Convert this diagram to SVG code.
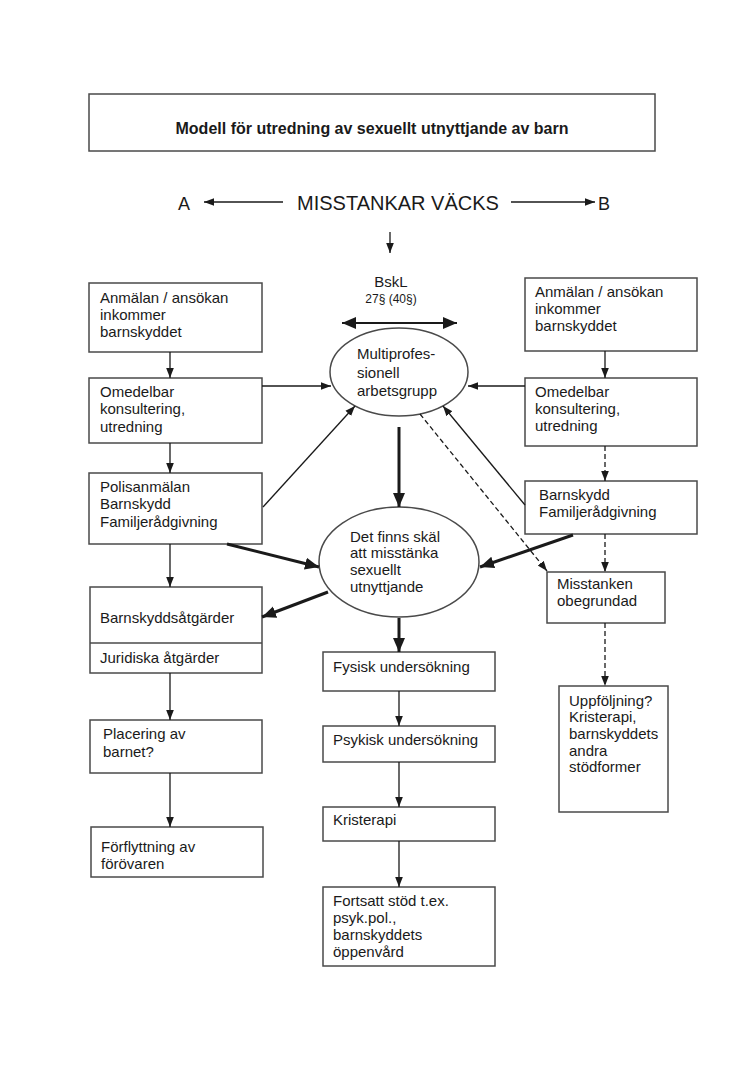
<svg xmlns="http://www.w3.org/2000/svg" width="749" height="1072" viewBox="0 0 749 1072">
<style>
text{font-family:"Liberation Sans",Arial,sans-serif;fill:#1a1a1a;font-size:15px}
.box{fill:#fff;stroke:#4a4a4a;stroke-width:1.5}
.ln{fill:none;stroke:#1a1a1a;stroke-width:1.3}
.th{fill:none;stroke:#1a1a1a;stroke-width:3}
.ds{fill:none;stroke:#1a1a1a;stroke-width:1.3;stroke-dasharray:5 3}
</style>
<defs>
<marker id="a" markerUnits="userSpaceOnUse" markerWidth="10" markerHeight="10" viewBox="0 0 10 10" refX="10" refY="5" orient="auto-start-reverse"><path d="M0,1.2 L10,5 L0,8.8 Z" fill="#1a1a1a"/></marker>
<marker id="b" markerUnits="userSpaceOnUse" markerWidth="14" markerHeight="14" viewBox="0 0 14 14" refX="14" refY="7" orient="auto-start-reverse"><path d="M0,1 L14,7 L0,13 Z" fill="#1a1a1a"/></marker>
</defs>
<rect width="749" height="1072" fill="#fff"/>

<g id="title"><rect class="box" x="89" y="94" width="566" height="57"/><text x="372" y="134" text-anchor="middle" style="font-weight:bold;font-size:16px">Modell för utredning av sexuellt utnyttjande av barn</text></g>
<g id="misstankar"><text x="297" y="210" style="font-size:20px">MISSTANKAR VÄCKS</text></g>
<g id="A"><text x="178" y="210" style="font-size:18px">A</text></g>
<g id="B"><text x="598" y="210" style="font-size:18px">B</text></g>
<g id="bskl"><text x="391" y="287" text-anchor="middle">BskL</text><text x="391" y="303" text-anchor="middle" style="font-size:12px">27§ (40§)</text></g>

<g id="L1"><rect class="box" x="89" y="283" width="173" height="69"/><text x="100" y="303">Anmälan / ansökan</text><text x="100" y="320">inkommer</text><text x="100" y="337">barnskyddet</text></g>
<g id="L2"><rect class="box" x="89" y="378" width="173" height="65"/><text x="100" y="397">Omedelbar</text><text x="100" y="414">konsultering,</text><text x="100" y="432">utredning</text></g>
<g id="L3"><rect class="box" x="89" y="473" width="173" height="71"/><text x="100" y="492">Polisanmälan</text><text x="100" y="509">Barnskydd</text><text x="100" y="527">Familjerådgivning</text></g>
<g id="L4"><rect class="box" x="90" y="587" width="172" height="86"/><line class="box" x1="90" y1="643" x2="262" y2="643"/><text x="100" y="623">Barnskyddsåtgärder</text><text x="100" y="663">Juridiska åtgärder</text></g>
<g id="L5"><rect class="box" x="90" y="720" width="172" height="53"/><text x="103" y="739">Placering av</text><text x="103" y="757">barnet?</text></g>
<g id="L6"><rect class="box" x="91" y="827" width="172" height="50"/><text x="101" y="852">Förflyttning av</text><text x="101" y="869">förövaren</text></g>

<g id="E1"><ellipse cx="399" cy="372" rx="69" ry="44" fill="#fff" stroke="#4a4a4a" stroke-width="1.5"/><text x="357" y="359">Multiprofes-</text><text x="357" y="378">sionell</text><text x="357" y="396">arbetsgrupp</text></g>
<g id="E2"><ellipse cx="399" cy="562" rx="80" ry="55" fill="#fff" stroke="#4a4a4a" stroke-width="1.5"/><text x="350" y="542">Det finns skäl</text><text x="350" y="558">att misstänka</text><text x="350" y="575">sexuellt</text><text x="350" y="592">utnyttjande</text></g>

<g id="C1"><rect class="box" x="323" y="652" width="172" height="39"/><text x="333" y="672">Fysisk undersökning</text></g>
<g id="C2"><rect class="box" x="323" y="726" width="172" height="36"/><text x="333" y="745">Psykisk undersökning</text></g>
<g id="C3"><rect class="box" x="323" y="807" width="172" height="34"/><text x="333" y="825">Kristerapi</text></g>
<g id="C4"><rect class="box" x="323" y="887" width="172" height="79"/><text x="333" y="906">Fortsatt stöd t.ex.</text><text x="333" y="923">psyk.pol.,</text><text x="333" y="940">barnskyddets</text><text x="333" y="957">öppenvård</text></g>

<g id="R1"><rect class="box" x="525" y="278" width="172" height="73"/><text x="535" y="297">Anmälan / ansökan</text><text x="535" y="314">inkommer</text><text x="535" y="331">barnskyddet</text></g>
<g id="R2"><rect class="box" x="525" y="378" width="172" height="68"/><text x="535" y="397">Omedelbar</text><text x="535" y="414">konsultering,</text><text x="535" y="431">utredning</text></g>
<g id="R3"><rect class="box" x="525" y="481" width="172" height="53"/><text x="539" y="500">Barnskydd</text><text x="539" y="517">Familjerådgivning</text></g>
<g id="R4"><rect class="box" x="547" y="572" width="118" height="51"/><text x="557" y="589">Misstanken</text><text x="557" y="606">obegrundad</text></g>
<g id="R5"><rect class="box" x="559" y="686" width="109" height="126"/><text x="569" y="706">Uppföljning?</text><text x="569" y="722">Kristerapi,</text><text x="569" y="739">barnskyddets</text><text x="569" y="756">andra</text><text x="569" y="772">stödformer</text></g>

<g id="connectors">
<line class="ln" x1="283" y1="202" x2="204" y2="202" marker-end="url(#a)"/>
<line class="ln" x1="511" y1="202" x2="595" y2="202" marker-end="url(#a)"/>
<line class="ln" x1="390" y1="232" x2="390" y2="253" marker-end="url(#a)"/>
<line class="th" style="stroke-width:2" x1="342" y1="323" x2="457" y2="323" marker-start="url(#b)" marker-end="url(#b)"/>

<line class="ln" x1="170" y1="352" x2="170" y2="378" marker-end="url(#a)"/>
<line class="ln" x1="170" y1="443" x2="170" y2="473" marker-end="url(#a)"/>
<line class="ln" x1="170" y1="544" x2="170" y2="587" marker-end="url(#a)"/>
<line class="ln" x1="170" y1="673" x2="170" y2="720" marker-end="url(#a)"/>
<line class="ln" x1="170" y1="773" x2="170" y2="827" marker-end="url(#a)"/>

<line class="ln" x1="605" y1="351" x2="605" y2="378" marker-end="url(#a)"/>
<line class="ds" x1="605" y1="446" x2="605" y2="481" marker-end="url(#a)"/>
<line class="ds" x1="605" y1="534" x2="605" y2="572" marker-end="url(#a)"/>
<line class="ds" x1="605" y1="623" x2="605" y2="686" marker-end="url(#a)"/>

<line class="th" x1="399" y1="427" x2="399" y2="507" marker-end="url(#b)"/>
<line class="th" x1="399" y1="618" x2="399" y2="652" marker-end="url(#b)"/>
<line class="ln" x1="399" y1="691" x2="399" y2="726" marker-end="url(#a)"/>
<line class="ln" x1="399" y1="762" x2="399" y2="807" marker-end="url(#a)"/>
<line class="ln" x1="399" y1="841" x2="399" y2="887" marker-end="url(#a)"/>

<line class="ln" x1="262" y1="386" x2="331" y2="386" marker-end="url(#a)"/>
<line class="ln" x1="525" y1="386" x2="468" y2="386" marker-end="url(#a)"/>
<line class="ln" x1="263" y1="507" x2="355" y2="406" marker-end="url(#a)"/>
<line class="ln" x1="525" y1="505" x2="443" y2="406" marker-end="url(#a)"/>
<line class="th" x1="227" y1="544" x2="319" y2="567" marker-end="url(#b)"/>
<line class="th" x1="573" y1="535" x2="480" y2="567" marker-end="url(#b)"/>
<line class="th" x1="328" y1="592" x2="262" y2="617" marker-end="url(#b)"/>
<line class="ds" x1="420" y1="414" x2="547" y2="571" marker-end="url(#a)"/>
</g>
</svg>
